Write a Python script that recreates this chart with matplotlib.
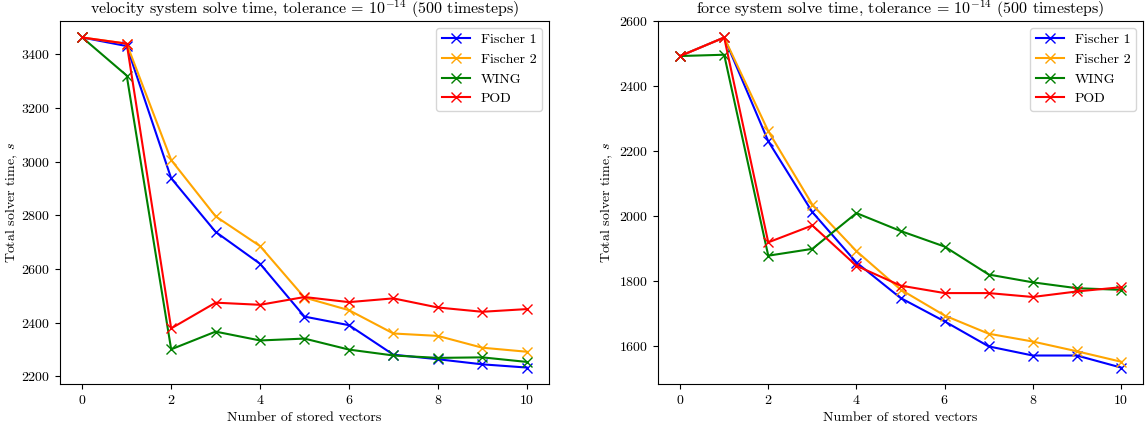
import matplotlib
matplotlib.use('Agg')
import matplotlib.pyplot as plt

plt.rcParams['font.family'] = 'cmr10'
plt.rcParams['mathtext.fontset'] = 'cm'
plt.rcParams['axes.formatter.use_mathtext'] = True
plt.rcParams['axes.unicode_minus'] = False

n_vectors = list(range(11))
methods = ['Fischer 1', 'Fischer 2', 'WING', 'POD']
colors = ['blue', 'orange', 'green', 'red']

# total solve times (s) for the velocity system
velocity_times = [
    [3463, 3431, 2938, 2738, 2619, 2422, 2390, 2280, 2263, 2244, 2232],  # Fischer 1
    [3463, 3440, 3006, 2796, 2685, 2493, 2446, 2359, 2350, 2306, 2291],  # Fischer 2
    [3463, 3321, 2300, 2366, 2333, 2340, 2299, 2277, 2268, 2270, 2253],  # WING
    [3463, 3440, 2378, 2474, 2466, 2495, 2476, 2490, 2456, 2440, 2450],  # POD
]

# total solve times (s) for the force system
force_times = [
    [2493, 2550, 2231, 2013, 1858, 1749, 1677, 1600, 1572, 1572, 1535],  # Fischer 1
    [2493, 2550, 2262, 2036, 1893, 1775, 1695, 1639, 1615, 1585, 1553],  # Fischer 2
    [2493, 2497, 1879, 1900, 2010, 1955, 1907, 1821, 1797, 1779, 1774],  # WING
    [2493, 2550, 1920, 1972, 1848, 1787, 1764, 1764, 1752, 1769, 1782],  # POD
]

titles = [
    r'velocity system solve time, tolerance = $10^{-14}$ (500 timesteps)',
    r'force system solve time, tolerance = $10^{-14}$ (500 timesteps)',
]

fig = plt.figure(figsize=(11.46, 4.32), dpi=100)
ax_left = fig.add_axes([0.0524, 0.111, 0.4266, 0.8404])
ax_right = fig.add_axes([0.5742, 0.111, 0.4232, 0.8404])

for ax, data, title, ylab_x in zip([ax_left, ax_right], [velocity_times, force_times],
                                   titles, [-0.082, -0.089]):
    for name, color, times in zip(methods, colors, data):
        ax.plot(n_vectors, times, color=color, marker='x', markersize=7,
                linewidth=1.5, label=name)
    ax.set_title(title, fontsize=11.5, pad=5)
    ax.set_xlabel('Number of stored vectors', fontsize=10)
    ax.set_ylabel('Total solver time, $s$', fontsize=10)
    ax.yaxis.set_label_coords(ylab_x, 0.5)
    ax.tick_params(labelsize=10)
    ax.legend(loc='upper right', fontsize=10)

fig.savefig('out.png', dpi=100)
